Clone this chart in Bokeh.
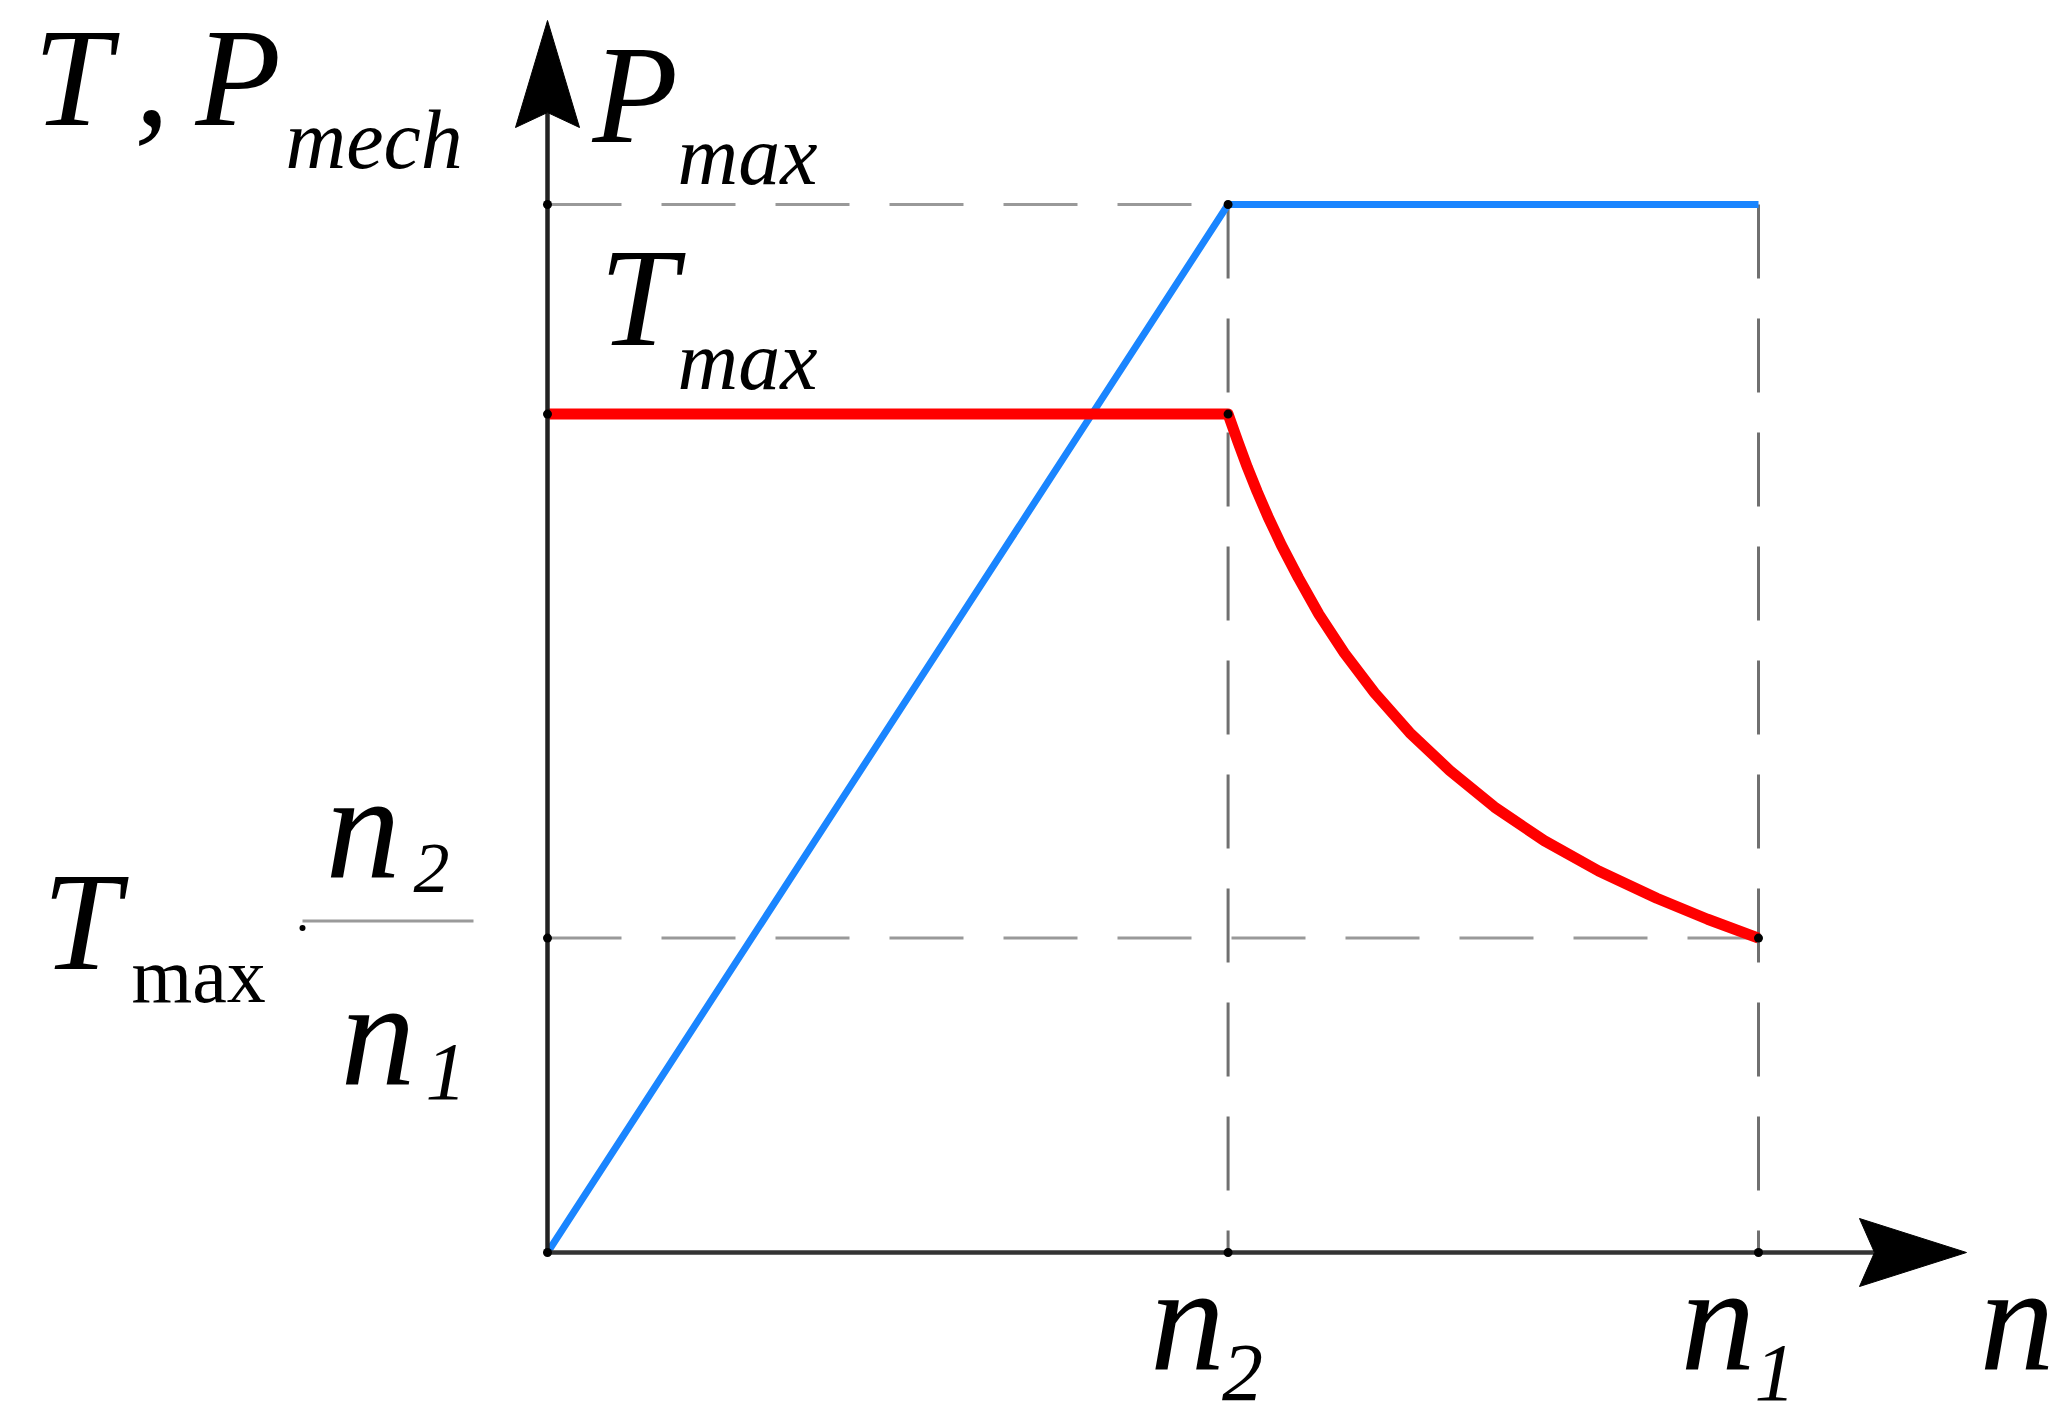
from bokeh.plotting import figure
from bokeh.models import Range1d
from bokeh.core.properties import value
from bokeh.embed import file_html
from bokeh.resources import INLINE

# ---------------- data ----------------
n2 = 56.2          # base speed (n1 = 100)
n1 = 100.0
P_max = 100.0
T_max = 80.0
T_min = 30.0       # = T_max * n2 / n1 as drawn

power_n = [0.0, n2, n1]
power_P = [0.0, P_max, P_max]

torque_n = [0.0, 56.2, 57.0, 57.8, 58.6, 59.5, 60.6, 62.0, 63.7, 65.8, 68.3,
            71.2, 74.5, 78.2, 82.3, 86.8, 91.6, 95.8, 100.0]
torque_T = [80.0, 80.0, 77.4, 74.9, 72.6, 70.2, 67.5, 64.4, 60.9, 57.2, 53.4,
            49.6, 46.0, 42.5, 39.3, 36.4, 33.8, 31.8, 30.0]

# ---------------- layout ----------------
W, H = 2054, 1424
OX, OY = 547, 1252          # origin on the picture (px)
XS = 1211.0 / n1            # px per n unit
YS = 1048.0 / P_max         # px per T/P unit

x_range = Range1d((0 - OX) / XS, (W - OX) / XS)
y_range = Range1d((OY - H) / YS, (OY - 0) / YS)

p = figure(width=W, height=H, x_range=x_range, y_range=y_range,
           output_backend="svg", toolbar_location=None, min_border=0,
           title=None)
p.xaxis.visible = False
p.yaxis.visible = False
p.grid.visible = False
p.outline_line_color = None
p.background_fill_color = "white"
p.border_fill_color = "white"


def ox(ax, px):
    return ax + px / XS


def oy(ay, px_down):
    return ay - px_down / YS


# ---------------- guide (dashed) lines ----------------
DASH = "74 40"
p.line([0, n2], [P_max, P_max], line_color="#999999", line_width=3, line_dash=DASH)
p.line([0, n1], [T_min, T_min], line_color="#999999", line_width=3, line_dash=DASH)
p.line([n2, n2], [P_max, 0], line_color="#707070", line_width=3, line_dash=DASH)
p.line([n1, n1], [P_max, 0], line_color="#707070", line_width=3, line_dash=DASH)

# ---------------- curves ----------------
p.line(power_n, power_P, line_color="#1a85ff", line_width=7)
p.line(torque_n, torque_T, line_color="#ff0000", line_width=11, line_join="round")

# ---------------- axes with arrows ----------------
y_tip = oy(P_max, -184)
x_tip = ox(n1, 208)
p.line([0, 0], [0, oy(y_tip, 92)], line_color="#222222", line_width=4.5)
p.line([0, ox(x_tip, -92)], [0, 0], line_color="#333333", line_width=4.5)
p.patch([0, ox(0, 32), 0, ox(0, -32)],
        [y_tip, oy(y_tip, 107), oy(y_tip, 92), oy(y_tip, 107)],
        fill_color="black", line_color="black", line_width=1)
p.patch([x_tip, ox(x_tip, -107), ox(x_tip, -92), ox(x_tip, -107)],
        [0, oy(0, -34), 0, oy(0, 34)],
        fill_color="black", line_color="black", line_width=1)

# ---------------- node dots ----------------
dot_x = [0, 0, 0, 0, n2, n1, n2, n2, n1]
dot_y = [0, P_max, T_max, T_min, 0, 0, P_max, T_max, T_min]
p.scatter(dot_x, dot_y, size=9, marker="circle", fill_color="black", line_color=None)

# ---------------- labels ----------------
SERIF = value("Liberation Serif")
BASE_FIX = 0.34   # baseline correction (em)


def lab(txt, ax, ay, dxp, dyp, size, style="italic"):
    dyp = dyp - BASE_FIX * size
    p.text([ox(ax, dxp)], [oy(ay, dyp)], text=[txt], text_font=SERIF,
           text_font_size=f"{size}px", text_font_style=style,
           text_color="black", text_align="left", text_baseline="alphabetic")


# axis title  T , P_mech
lab("T", 0, P_max, -514, -79, 140)
lab(",", 0, P_max, -413, -79, 140)
lab("P", 0, P_max, -352, -79, 140)
lab("mech", 0, P_max, -262, -36, 84)
# P_max
lab("P", 0, P_max, 45, -62, 140)
lab("max", 0, P_max, 130, -20, 84)
# T_max
lab("T", 0, T_max, 52, -69, 140)
lab("max", 0, T_max, 130, -25, 84)
# T_max . n2 / n1
lab("T", 0, T_min, -505, 31, 140)
lab("max", 0, T_min, -416, 64, 78, "normal")
p.scatter([ox(0, -245)], [oy(T_min, -10)], size=6, marker="circle",
          fill_color="black", line_color=None)
p.line([ox(0, -245), ox(0, -74)], [oy(T_min, -17), oy(T_min, -17)],
       line_color="#9a9a9a", line_width=3)
lab("n", 0, T_min, -222, -61, 150)
lab("2", 0, T_min, -134, -45, 72)
lab("n", 0, T_min, -207, 146, 150)
lab("1", 0, T_min, -122, 162, 82)
# x-axis labels
lab("n", n2, 0, -78, 116, 150)
lab("2", n2, 0, -6, 148, 82)
lab("n", n1, 0, -78, 116, 150)
lab("1", n1, 0, -4, 148, 82)
lab("n", n1, 0, 221, 116, 150)

open("out.html", "w").write(file_html(p, INLINE))
